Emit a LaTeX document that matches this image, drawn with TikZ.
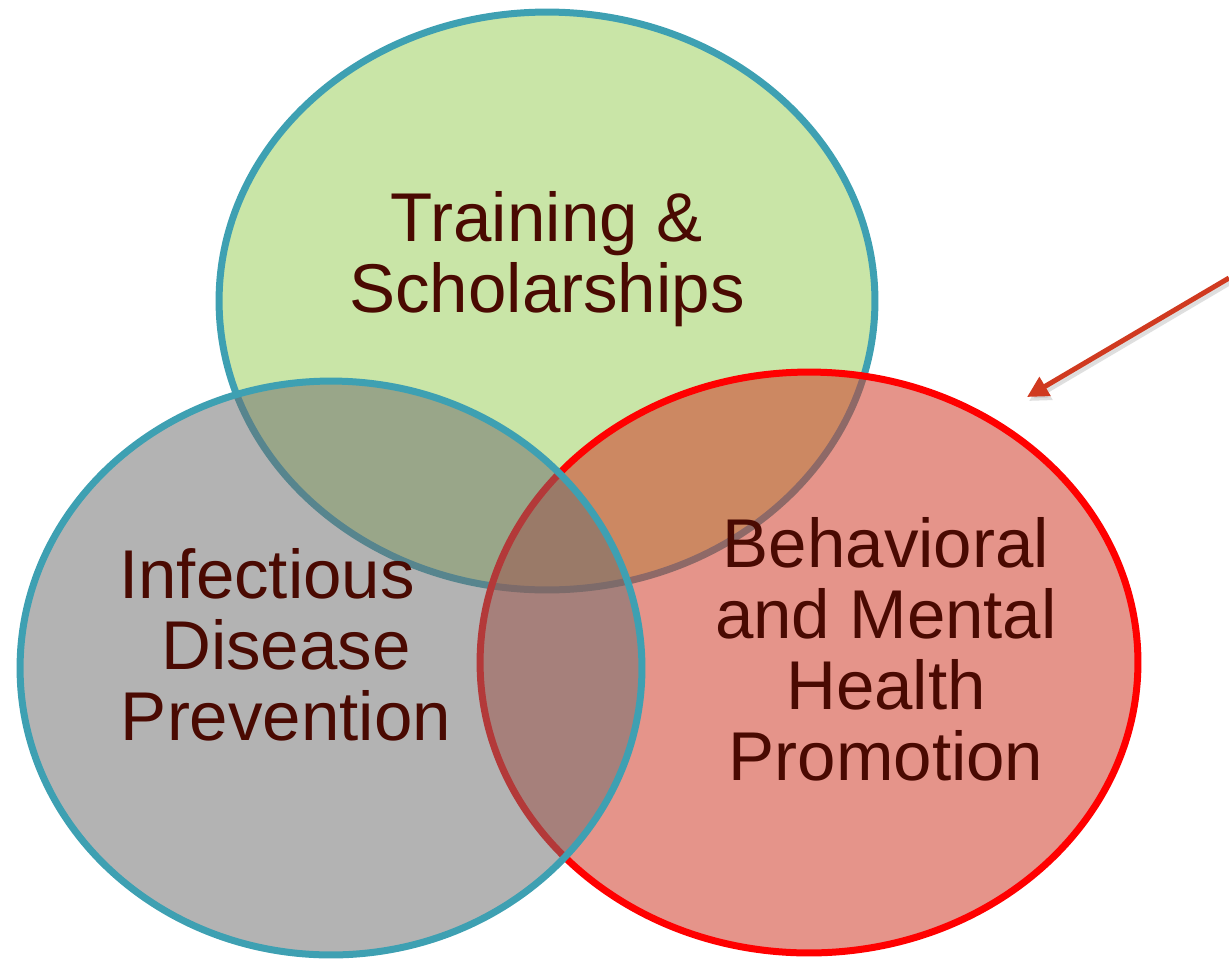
\documentclass[tikz,border=0pt]{standalone}
\usepackage{fontspec}
\setmainfont{Liberation Sans}
\usetikzlibrary{arrows.meta}
\definecolor{tealB}{RGB}{62,160,178}
\definecolor{greenF}{RGB}{201,229,167}
\definecolor{redF}{RGB}{208,60,42}
\definecolor{grayF}{RGB}{110,110,110}
\definecolor{txt}{RGB}{74,10,2}
\definecolor{arrowC}{RGB}{208,58,32}
\tikzset{
  circ/.style={line width=0.14cm},
  label/.style={inner sep=0pt, anchor=base, align=center, text=txt,
    font=\fontsize{39.3pt}{40.4pt}\selectfont},
  pointer/.style={line width=0.1cm, -{Triangle[length=0.42cm,width=0.42cm]}}
}
\begin{document}
\begin{tikzpicture}[x=0.02cm,y=-0.02cm]
\useasboundingbox (0,0) rectangle (1229,960);
% top (green) ellipse
\draw[circ, draw=tealB, fill=greenF] (547,301) ellipse [x radius=6.56cm, y radius=5.78cm];
% right (red) ellipse
\fill[redF, fill opacity=0.55] (809,662.5) ellipse [x radius=6.58cm, y radius=5.81cm];
\draw[circ, draw=red] (809,662.5) ellipse [x radius=6.58cm, y radius=5.81cm];
% left (gray) ellipse
\fill[grayF, fill opacity=0.52] (331,668) ellipse [x radius=6.22cm, y radius=5.74cm];
\draw[circ, draw=tealB] (331,668) ellipse [x radius=6.22cm, y radius=5.74cm];
% labels (base anchor = baseline of the last line)
\node[label] (train) at (547,312) {Training \&\\Scholarships};
\node[label] (infect) at (286,740) {Infectious\hspace*{0.76cm}\\Disease\\Prevention};
\node[label] (behav) at (886,780) {Behavioral\\and Mental\\Health\\Promotion};
% arrow
\coordinate (arrstart) at (1229,278);
\coordinate (arrend) at (1027,397);
\draw[pointer, draw=black!25, fill=black!25, opacity=0.5] ([shift={(2,4)}]arrstart) -- ([shift={(2,4)}]arrend);
\draw[pointer, draw=arrowC, fill=arrowC] (arrstart) -- (arrend);
\end{tikzpicture}
\end{document}
